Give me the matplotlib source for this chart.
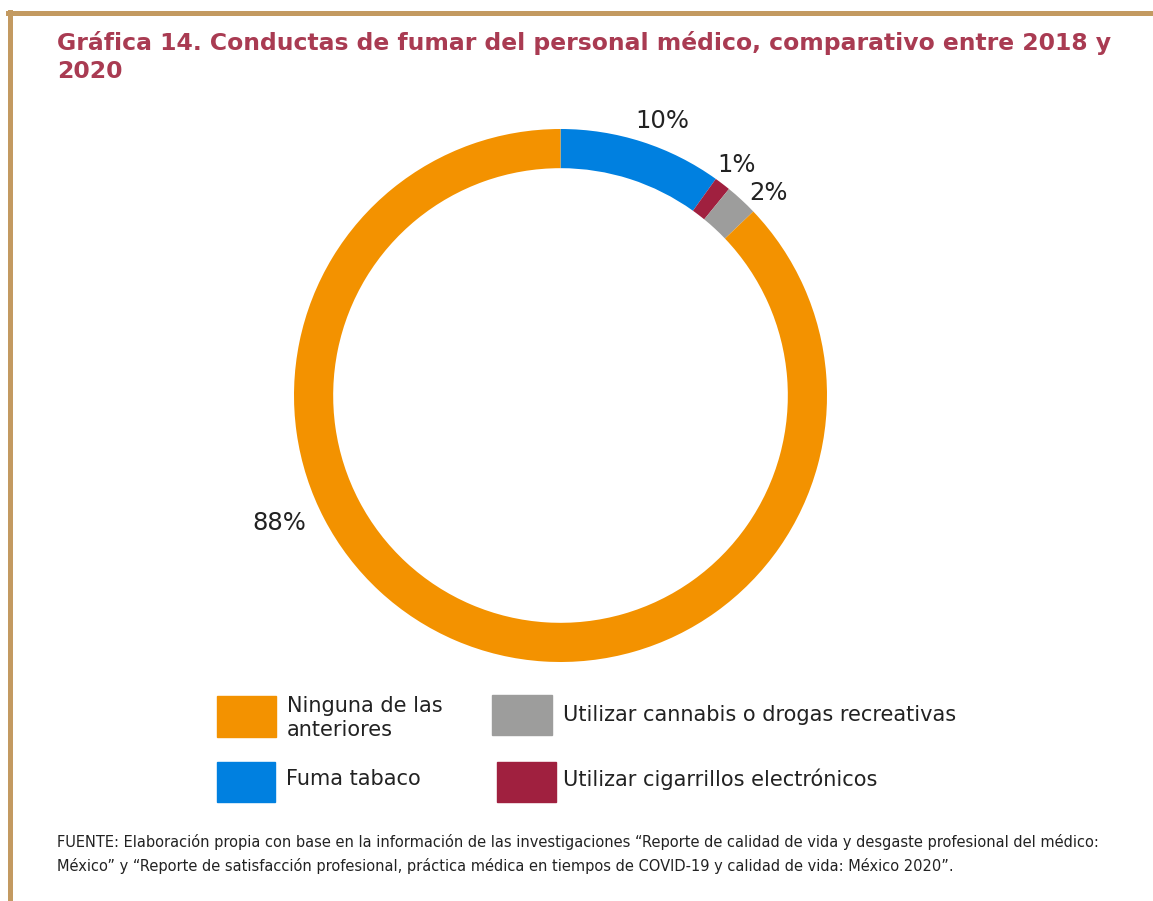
import matplotlib.pyplot as plt
from matplotlib.patches import Rectangle

# datos
categorias = ["Fuma tabaco", "Utilizar cigarrillos electrónicos",
              "Utilizar cannabis o drogas recreativas", "Ninguna de las\nanteriores"]
porcentajes = [10, 1, 2, 88]
colores = ["#0080E0", "#A0203F", "#9D9D9C", "#F39200"]

W, H = 1153, 901
fig = plt.figure(figsize=(W / 100, H / 100), dpi=100)


def fx(x):
    return x / W


def fy(y):
    return 1 - y / H


# marco
fig.add_artist(plt.Line2D([fx(9.5), fx(9.5)], [fy(12), 0], color="#C39A61", lw=3.6))
fig.add_artist(plt.Line2D([fx(8), 1], [fy(12.5), fy(12.5)], color="#C39A61", lw=3.6))

# titulo
fig.text(fx(57), fy(57), "Gráfica 14. Conductas de fumar del personal médico, comparativo entre 2018 y\n2020",
         color="#A93B52", fontsize=16.9, fontweight="bold", va="center", ha="left", linespacing=1.3)

# dona
cx, cy, r = 560.5, 395.5, 266.5
ax = fig.add_axes([fx(cx - r), fy(cy + r), 2 * r / W, 2 * r / H])
ax.pie(porcentajes, colors=colores, startangle=90, counterclock=False,
       wedgeprops=dict(width=0.147, edgecolor="none"))
ax.set_xlim(-1, 1)
ax.set_ylim(-1, 1)
ax.set_aspect("equal")
ax.axis("off")

pos_etiquetas = [(0.381, 1.030), (0.662, 0.865), (0.782, 0.760), (-1.056, -0.478)]
for p, (lx, ly) in zip(porcentajes, pos_etiquetas):
    ax.text(lx, ly, f"{p}%", ha="center", va="center", fontsize=17.5, color="#222222")

# leyenda
cuadros = [(217, 762, 58, 40), (497, 762, 59, 40), (492, 695, 60, 40), (217, 696, 59, 41)]
textos = [(286, 779), (563, 779), (563, 715), (287, 718)]
for col, cat, (x, y, w, h), (tx, ty) in zip(colores, categorias, cuadros, textos):
    fig.add_artist(Rectangle((fx(x), fy(y + h)), w / W, h / H, color=col,
                             transform=fig.transFigure))
    fig.text(fx(tx), fy(ty), cat, fontsize=15, va="center", ha="left",
             color="#222222", linespacing=1.2)

# fuente
fig.text(fx(57), fy(854),
         "FUENTE: Elaboración propia con base en la información de las investigaciones “Reporte de calidad de vida y desgaste profesional del médico:\n"
         "México” y “Reporte de satisfacción profesional, práctica médica en tiempos de COVID-19 y calidad de vida: México 2020”.",
         fontsize=10.5, va="center", ha="left", color="#222222", linespacing=1.6)

fig.savefig("out.png", dpi=100)
